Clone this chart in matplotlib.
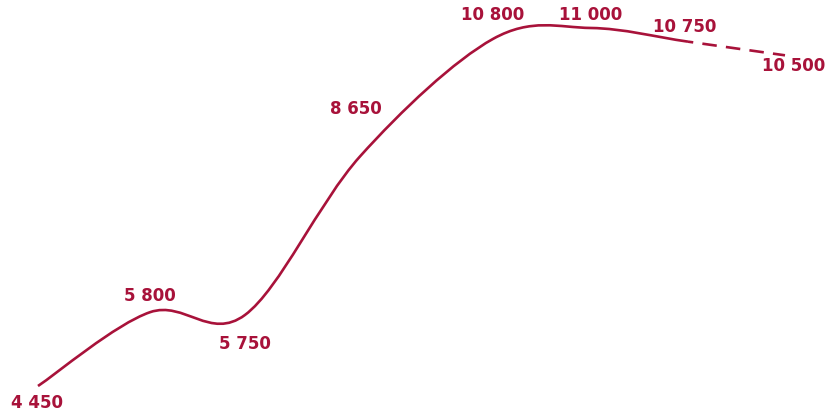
import numpy as np
import matplotlib.pyplot as plt
from matplotlib.path import Path
from matplotlib.patches import PathPatch

# 데이터
periods = [0.0, 1.12, 2.07, 3.22, 4.55, 5.53, 6.50, 7.47]
values = [4450, 5800, 5750, 8650, 10800, 11000, 10750, 10500]
labels = ["4 450", "5 800", "5 750", "8 650", "10 800", "11 000", "10 750", "10 500"]
# 라벨 위치 (픽셀 오프셋)
label_offsets = [(-1, -17), (0, 16), (0, -29), (-4, 47), (0, 24), (0, 13), (-3, 15), (9, -11)]

color = "#A8123A"


def smooth_path(xs, ys):
    # Catmull-Rom -> 베지어 제어점
    pts = np.column_stack([xs, ys]).astype(float)
    n = len(pts)
    verts = [pts[0]]
    codes = [Path.MOVETO]
    for i in range(n - 1):
        p0 = pts[max(i - 1, 0)]
        p1 = pts[i]
        p2 = pts[i + 1]
        p3 = pts[min(i + 2, n - 1)]
        verts += [p1 + (p2 - p0) / 6, p2 - (p3 - p1) / 6, p2]
        codes += [Path.CURVE4] * 3
    return Path(verts, codes)


fig = plt.figure(figsize=(8.37, 4.16), dpi=100)
ax = fig.add_axes([0, 0, 1, 1])
ax.set_xlim(-0.38, 7.99)
ax.set_ylim(3901, 11512)
ax.axis("off")

full = smooth_path(periods, values)
verts = full.vertices
codes = full.codes
# 마지막 구간만 점선
split = 1 + 3 * (len(periods) - 2)
solid = Path(verts[:split], codes[:split])
dashed = Path(verts[split - 1:], [Path.MOVETO] + list(codes[split:]))

ax.add_patch(PathPatch(solid, fill=False, edgecolor=color, lw=1.9, capstyle="butt"))
ax.add_patch(PathPatch(dashed, fill=False, edgecolor=color, lw=1.9,
                       linestyle=(3.5, (5.5, 3.5)), capstyle="butt"))

for x, y, lab, (dx, dy) in zip(periods, values, labels, label_offsets):
    ax.annotate(lab, (x, y), xytext=(dx * 0.72, dy * 0.72), textcoords="offset points",
                ha="center", va="center", fontsize=12, fontweight="bold",
                color=color, family="DejaVu Sans")

fig.savefig("out.png", dpi=100)
